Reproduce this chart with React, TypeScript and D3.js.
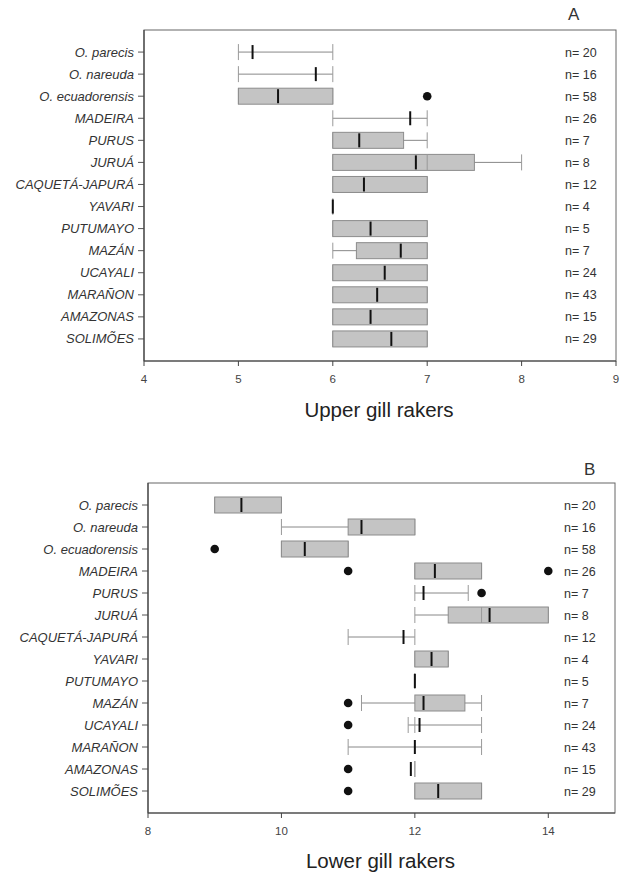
import React from "react";
import * as d3 from "d3";

const categories = [
  "O. parecis", "O. nareuda", "O. ecuadorensis", "MADEIRA", "PURUS", "JURUÁ",
  "CAQUETÁ-JAPURÁ", "YAVARI", "PUTUMAYO", "MAZÁN", "UCAYALI", "MARAÑON", "AMAZONAS", "SOLIMÕES",
];
const nCounts = [20, 16, 58, 26, 7, 8, 12, 4, 5, 7, 24, 43, 15, 29];

// Upper gill rakers (panel A)
const upperWhiskerLow = [5, 5, 5, 6, 6, 6, 6, 6, 6, 6, 6, 6, 6, 6];
const upperQ1 = [5, 6, 5, 6, 6, 6, 6, 6, 6, 6.25, 6, 6, 6, 6];
const upperMedian = [5.15, 5.82, 5.42, 6.82, 6.28, 6.88, 6.33, 6, 6.4, 6.72, 6.55, 6.47, 6.4, 6.62];
const upperQ3 = [5, 6, 6, 6, 6.75, 7.5, 7, 6, 7, 7, 7, 7, 7, 7];
const upperWhiskerHigh = [6, 6, 6, 7, 7, 8, 7, 6, 7, 7, 7, 7, 7, 7];
const upperMeanLine: (number | null)[] = [null, null, null, null, null, 7, null, null, null, null, null, null, null, null];
const upperOutliers: number[][] = [[], [], [7], [], [], [], [], [], [], [], [], [], [], []];
const upperTicks = [4, 5, 6, 7, 8, 9];

// Lower gill rakers (panel B)
const lowerWhiskerLow = [9, 10, 10, 12, 12, 12, 11, 12, 12, 11.2, 11.9, 11, 12, 12];
const lowerQ1 = [9, 11, 10, 12, 12, 12.5, 12, 12, 12, 12, 12, 12, 12, 12];
const lowerMedian = [9.4, 11.2, 10.35, 12.3, 12.13, 13.12, 11.83, 12.25, 12, 12.13, 12.07, 12, 11.94, 12.35];
const lowerQ3 = [10, 12, 11, 13, 12, 14, 12, 12.5, 12, 12.75, 12, 12, 12, 13];
const lowerWhiskerHigh = [10, 12, 11, 13, 12.8, 14, 12, 12.5, 12, 13, 13, 13, 12, 13];
const lowerMeanLine: (number | null)[] = [null, null, null, null, null, 13, null, null, null, null, 12, null, null, null];
const lowerOutliers: number[][] = [[], [], [9], [11, 14], [13], [], [], [], [], [11], [11], [], [11], [11]];
const lowerTicks = [8, 10, 12, 14];

type PanelProps = {
  left: number; right: number; top: number; bottom: number;
  domain: [number, number]; ticks: number[];
  wlo: number[]; q1: number[]; med: number[]; q3: number[]; whi: number[];
  mean: (number | null)[]; outliers: number[][];
  title: string; titleY: number; letter: string; letterX: number; letterY: number;
};

const BOX_H = 16;

function Panel(p: PanelProps) {
  const x = d3.scaleLinear().domain(p.domain).range([p.left, p.right]);
  const y = d3.scalePoint<string>().domain(categories).range([p.top, p.bottom]).padding(1);
  const font = "Liberation Sans, Arial, sans-serif";
  return (
    <g>
      <text x={p.letterX} y={p.letterY} fontFamily={font} fontSize={17} fill="#333">{p.letter}</text>
      <rect x={p.left} y={p.top} width={p.right - p.left} height={p.bottom - p.top} fill="white" stroke="#666" strokeWidth={1} />
      {categories.map((c, i) => {
        const cy = y(c)!;
        const hasBox = p.q3[i] > p.q1[i];
        return (
          <g key={c}>
            <line x1={p.left - 6} x2={p.left} y1={cy} y2={cy} stroke="#555" />
            <text x={p.left - 10} y={cy + 4.5} textAnchor="end" fontFamily={font} fontStyle="italic" fontSize={13} fill="#333">{c}</text>
            <text x={p.right - 51} y={cy + 4.5} fontFamily={font} fontSize={12.5} fill="#333">{`n= ${nCounts[i]}`}</text>
            {p.whi[i] > p.wlo[i] && (
              <line x1={x(p.wlo[i])} x2={x(p.whi[i])} y1={cy} y2={cy} stroke="#888" strokeWidth={1} />
            )}
            <line x1={x(p.wlo[i])} x2={x(p.wlo[i])} y1={cy - BOX_H / 2} y2={cy + BOX_H / 2} stroke="#999" strokeWidth={1} />
            <line x1={x(p.whi[i])} x2={x(p.whi[i])} y1={cy - BOX_H / 2} y2={cy + BOX_H / 2} stroke="#999" strokeWidth={1} />
            {hasBox && (
              <rect x={x(p.q1[i])} y={cy - BOX_H / 2} width={x(p.q3[i]) - x(p.q1[i])} height={BOX_H} fill="#c4c4c4" stroke="#8c8c8c" strokeWidth={1} />
            )}
            {p.mean[i] !== null && (
              <line x1={x(p.mean[i] as number)} x2={x(p.mean[i] as number)} y1={cy - BOX_H / 2} y2={cy + BOX_H / 2} stroke="#999" strokeWidth={1} />
            )}
            <line x1={x(p.med[i])} x2={x(p.med[i])} y1={cy - BOX_H / 2 + 1} y2={cy + BOX_H / 2 - 1} stroke="#111" strokeWidth={2} />
            {p.outliers[i].map((o, k) => (
              <circle key={k} cx={x(o)} cy={cy} r={4.3} fill="#111" />
            ))}
          </g>
        );
      })}
      <line x1={p.left} x2={p.right} y1={p.bottom} y2={p.bottom} stroke="#444" strokeWidth={1.2} />
      <line x1={p.left} x2={p.left} y1={p.top} y2={p.bottom} stroke="#444" strokeWidth={1.2} />
      {p.ticks.map((t) => (
        <g key={t}>
          <line x1={x(t)} x2={x(t)} y1={p.bottom} y2={p.bottom + 5} stroke="#444" />
          <text x={x(t)} y={p.bottom + 22} textAnchor="middle" fontFamily={font} fontSize={11.5} fill="#444">{t}</text>
        </g>
      ))}
      <text x={(p.left + p.right) / 2 - 1} y={p.titleY} textAnchor="middle" fontFamily={font} fontSize={20.5} fill="#222">{p.title}</text>
    </g>
  );
}

export default function App() {
  return (
    <svg width={623} height={873} style={{ position: "absolute", left: 0, top: 0, background: "white" }}>
      <rect x={0} y={0} width={623} height={873} fill="white" />
      <Panel left={144} right={616} top={30} bottom={361} domain={[4, 9]} ticks={upperTicks}
        wlo={upperWhiskerLow} q1={upperQ1} med={upperMedian} q3={upperQ3} whi={upperWhiskerHigh}
        mean={upperMeanLine} outliers={upperOutliers}
        title="Upper gill rakers" titleY={417} letter="A" letterX={568} letterY={20} />
      <Panel left={148} right={615} top={483} bottom={813} domain={[8, 15]} ticks={lowerTicks}
        wlo={lowerWhiskerLow} q1={lowerQ1} med={lowerMedian} q3={lowerQ3} whi={lowerWhiskerHigh}
        mean={lowerMeanLine} outliers={lowerOutliers}
        title="Lower gill rakers" titleY={868} letter="B" letterX={584} letterY={475} />
    </svg>
  );
}
